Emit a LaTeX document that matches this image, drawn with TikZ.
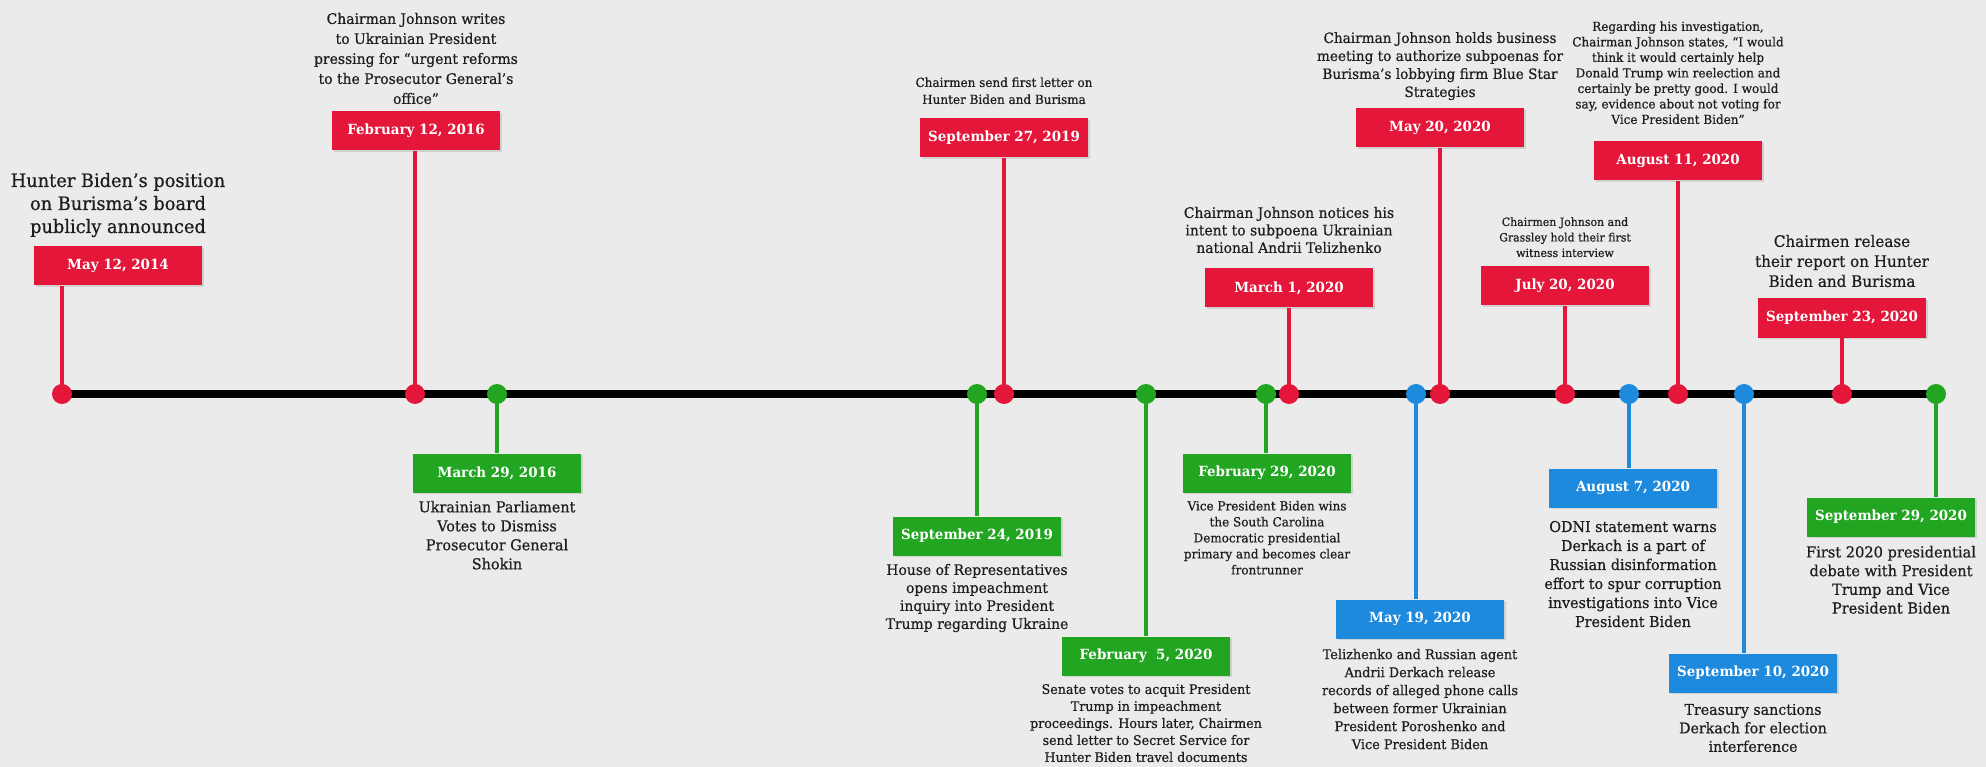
\documentclass[tikz,border=0pt]{standalone}
\usepackage{fontspec}
\setmainfont{DejaVu Serif}[FakeStretch=0.96]
\newfontfamily\evfont{DejaVu Serif}[Ligatures=TeX,FakeStretch=0.96,FakeBold=0.6]
\usepackage{tikz}
\usetikzlibrary{positioning,shadows}

\definecolor{tlred}{RGB}{228,22,58}
\definecolor{tlgreen}{RGB}{34,166,34}
\definecolor{tlblue}{RGB}{30,138,222}
\definecolor{tlback}{RGB}{235,235,235}
\definecolor{tltext}{RGB}{30,30,30}

\begin{document}
\begin{tikzpicture}[x=1pt,y=-1pt,
	datebox/.style={rectangle,fill=#1,text=white,font=\bfseries\fontsize{14}{16}\selectfont,
		minimum width=168pt,minimum height=39pt,inner sep=0pt,
		drop shadow={opacity=0.25,shadow xshift=1.5pt,shadow yshift=-1.5pt}},
	evtext/.style 2 args={align=center,text=tltext,inner sep=0pt,font=\evfont\fontsize{#1}{#2}\selectfont},
	evstalk/.style={draw=#1,line width=4.5pt},
	evdot/.style={circle,fill=#1,minimum size=20pt,inner sep=0pt},
	axis/.style={draw=black,line width=8pt}]
\path[use as bounding box,fill=tlback] (0,0) rectangle (1986,767);

\coordinate (c1) at (62,394);
\coordinate (c2) at (415,394);
\coordinate (c3) at (497,394);
\coordinate (c4) at (977,394);
\coordinate (c5) at (1004,394);
\coordinate (c6) at (1146,394);
\coordinate (c7) at (1266,394);
\coordinate (c8) at (1289,394);
\coordinate (c9) at (1416,394);
\coordinate (c10) at (1440,394);
\coordinate (c11) at (1565,394);
\coordinate (c12) at (1629,394);
\coordinate (c13) at (1678,394);
\coordinate (c14) at (1744,394);
\coordinate (c15) at (1842,394);
\coordinate (c16) at (1936,394);

\node[datebox=tlred] (d1) at (118,266) {May 12, 2014};
\node[evtext={18.5}{23},above=9pt of d1] (t1) {Hunter Biden's position\\on Burisma's board\\publicly announced};
\node[datebox=tlred] (d2) at (416,131) {February 12, 2016};
\node[evtext={14.5}{20},above=7pt of d2] (t2) {Chairman Johnson writes\\to Ukrainian President\\pressing for ``urgent reforms\\to the Prosecutor General's\\office''};
\node[datebox=tlgreen] (d3) at (497,473) {March 29, 2016};
\node[evtext={15}{19},below=8pt of d3] (t3) {Ukrainian Parliament\\Votes to Dismiss\\Prosecutor General\\Shokin};
\node[datebox=tlgreen] (d4) at (977,536) {September 24, 2019};
\node[evtext={14.5}{18},below=8pt of d4] (t4) {House of Representatives\\opens impeachment\\inquiry into President\\Trump regarding Ukraine};
\node[datebox=tlred] (d5) at (1004,138) {September 27, 2019};
\node[evtext={12.5}{17},above=14pt of d5] (t5) {Chairmen send first letter on\\Hunter Biden and Burisma};
\node[datebox=tlgreen] (d6) at (1146,656) {February~~5, 2020};
\node[evtext={13.2}{17},below=8pt of d6] (t6) {Senate votes to acquit President\\Trump in impeachment\\proceedings. Hours later, Chairmen\\send letter to Secret Service for\\Hunter Biden travel documents};
\node[datebox=tlgreen] (d7) at (1267,473) {February 29, 2020};
\node[evtext={12.5}{16},below=8pt of d7] (t7) {Vice President Biden wins\\the South Carolina\\Democratic presidential\\primary and becomes clear\\frontrunner};
\node[datebox=tlred] (d8) at (1289,288) {March 1, 2020};
\node[evtext={14.5}{17.5},above=15pt of d8] (t8) {Chairman Johnson notices his\\intent to subpoena Ukrainian\\national Andrii Telizhenko};
\node[datebox=tlblue] (d9) at (1420,619) {May 19, 2020};
\node[evtext={13.4}{18},below=10pt of d9] (t9) {Telizhenko and Russian agent\\Andrii Derkach release\\records of alleged phone calls\\between former Ukrainian\\President Poroshenko and\\Vice President Biden};
\node[datebox=tlred] (d10) at (1440,128) {May 20, 2020};
\node[evtext={14.2}{18},above=8pt of d10] (t10) {Chairman Johnson holds business\\meeting to authorize subpoenas for\\Burisma's lobbying firm Blue Star\\Strategies};
\node[datebox=tlred] (d11) at (1565,286) {July 20, 2020};
\node[evtext={11.4}{15.5},above=9pt of d11] (t11) {Chairmen Johnson and\\Grassley hold their first\\witness interview};
\node[datebox=tlblue] (d12) at (1633,488) {August 7, 2020};
\node[evtext={14.9}{19},below=13pt of d12] (t12) {ODNI statement warns\\Derkach is a part of\\Russian disinformation\\effort to spur corruption\\investigations into Vice\\President Biden};
\node[datebox=tlred] (d13) at (1678,161) {August 11, 2020};
\node[evtext={12.5}{15.5},above=17pt of d13] (t13) {Regarding his investigation,\\Chairman Johnson states, ``I would\\think it would certainly help\\Donald Trump win reelection and\\certainly be pretty good. I would\\say, evidence about not voting for\\Vice President Biden''};
\node[datebox=tlblue] (d14) at (1753,673) {September 10, 2020};
\node[evtext={14.8}{18.5},below=11pt of d14] (t14) {Treasury sanctions\\Derkach for election\\interference};
\node[datebox=tlred] (d15) at (1842,318) {September 23, 2020};
\node[evtext={15.8}{20},above=11pt of d15] (t15) {Chairmen release\\their report on Hunter\\Biden and Burisma};
\node[datebox=tlgreen] (d16) at (1891,517) {September 29, 2020};
\node[evtext={15.2}{18.7},below=9pt of d16] (t16) {First 2020 presidential\\debate with President\\Trump and Vice\\President Biden};

\draw[axis] (c1) -- (c16);
\draw[evstalk=tlred] (c1) -- (c1 |- d1.south);
\draw[evstalk=tlred] (c2) -- (c2 |- d2.south);
\draw[evstalk=tlgreen] (c3) -- (c3 |- d3.north);
\draw[evstalk=tlgreen] (c4) -- (c4 |- d4.north);
\draw[evstalk=tlred] (c5) -- (c5 |- d5.south);
\draw[evstalk=tlgreen] (c6) -- (c6 |- d6.north);
\draw[evstalk=tlgreen] (c7) -- (c7 |- d7.north);
\draw[evstalk=tlred] (c8) -- (c8 |- d8.south);
\draw[evstalk=tlblue] (c9) -- (c9 |- d9.north);
\draw[evstalk=tlred] (c10) -- (c10 |- d10.south);
\draw[evstalk=tlred] (c11) -- (c11 |- d11.south);
\draw[evstalk=tlblue] (c12) -- (c12 |- d12.north);
\draw[evstalk=tlred] (c13) -- (c13 |- d13.south);
\draw[evstalk=tlblue] (c14) -- (c14 |- d14.north);
\draw[evstalk=tlred] (c15) -- (c15 |- d15.south);
\draw[evstalk=tlgreen] (c16) -- (c16 |- d16.north);

\node[evdot=tlred] (p1) at (c1) {};
\node[evdot=tlred] (p2) at (c2) {};
\node[evdot=tlgreen] (p3) at (c3) {};
\node[evdot=tlgreen] (p4) at (c4) {};
\node[evdot=tlred] (p5) at (c5) {};
\node[evdot=tlgreen] (p6) at (c6) {};
\node[evdot=tlgreen] (p7) at (c7) {};
\node[evdot=tlred] (p8) at (c8) {};
\node[evdot=tlblue] (p9) at (c9) {};
\node[evdot=tlred] (p10) at (c10) {};
\node[evdot=tlred] (p11) at (c11) {};
\node[evdot=tlblue] (p12) at (c12) {};
\node[evdot=tlred] (p13) at (c13) {};
\node[evdot=tlblue] (p14) at (c14) {};
\node[evdot=tlred] (p15) at (c15) {};
\node[evdot=tlgreen] (p16) at (c16) {};
\end{tikzpicture}
\end{document}
